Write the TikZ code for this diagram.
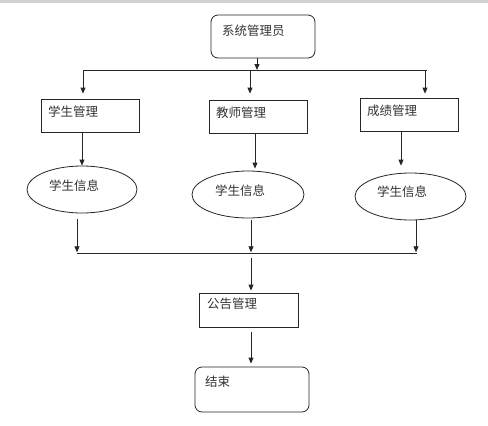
\documentclass[tikz,border=0pt]{standalone}
\usepackage{fontspec}
\newfontfamily\cjk{Noto Sans CJK SC}
\usetikzlibrary{arrows.meta,shapes.geometric}
\begin{document}
\begin{tikzpicture}[x=1pt,y=-1pt,
  line/.style={draw=black!85,line width=0.8pt},
  arr/.style={line,-{Triangle[length=6pt,width=5pt]}},
  boxr/.style={line,rectangle,rounded corners=7pt,inner sep=0pt},
  boxs/.style={line,rectangle,inner sep=0pt},
  oval/.style={line,ellipse,inner sep=0pt},
  txt/.style={font=\cjk\fontsize{12.5}{14}\selectfont,text=black!80,inner sep=0pt}]
\useasboundingbox (0,0) rectangle (488,426);
\fill[black!18] (0,0) rectangle (488,2.5);
% top box
\node[boxr,minimum width=104pt,minimum height=43pt] (A) at (263,36.5) {};
\node[txt,anchor=west] (At) at (222,31) {系统管理员};
% boxes
\node[boxs,minimum width=98pt,minimum height=33pt] (B1) at (90,115.5) {};
\node[boxs,minimum width=98pt,minimum height=33pt] (B2) at (258,116.5) {};
\node[boxs,minimum width=98pt,minimum height=33pt] (B3) at (409,114.5) {};
\node[txt,anchor=west] (B1t) at (48,111.5) {学生管理};
\node[txt,anchor=west] (B2t) at (216,112.5) {教师管理};
\node[txt,anchor=west] (B3t) at (367,110.5) {成绩管理};
% ellipses
\node[oval,minimum width=110pt,minimum height=47pt] (E1) at (82,189.5) {};
\node[oval,minimum width=112pt,minimum height=47pt] (E2) at (248,194.5) {};
\node[oval,minimum width=111pt,minimum height=47pt] (E3) at (410.5,196.5) {};
\node[txt] (E1t) at (74,185.5) {学生信息};
\node[txt] (E2t) at (240,190.5) {学生信息};
\node[txt] (E3t) at (402,192) {学生信息};
% bottom
\node[boxs,minimum width=99pt,minimum height=34pt] (D) at (248.5,310) {};
\node[txt,anchor=west] (Dt) at (207,304) {公告管理};
\node[boxr,minimum width=114pt,minimum height=45pt] (F) at (252,389.5) {};
\node[txt,anchor=west] (Ft) at (205,382) {结束};
% bus 1
\coordinate (c0) at (257,70);
\coordinate (b1l) at (83,70);
\coordinate (b1r) at (427,70);
\coordinate (u2) at (250,70);
\coordinate (u3) at (425,70);
\draw[line] (b1l) -- (b1r);
\draw[arr] (A.south -| c0) -- (c0);
\draw[arr,shorten >=5pt] (b1l) -- (b1l |- B1.north);
\draw[arr,shorten >=6pt] (u2) -- (u2 |- B2.north);
\draw[arr,shorten >=4pt] (u3) -- (u3 |- B3.north);
% boxes to ellipses
\coordinate (s2) at (255,133);
\coordinate (s3) at (401,131);
\draw[arr] (B1.south -| E1.north) -- (E1.north);
\draw[arr,shorten >=2pt] (s2) -- (s2 |- E2.north);
\draw[arr,shorten >=7pt] (s3) -- (s3 |- E3.north);
% bus 2
\coordinate (b2l) at (77,253.3);
\coordinate (b2r) at (417,253.3);
\coordinate (m2) at (251,253.3);
\coordinate (m3) at (416,253.3);
\draw[line] (b2l) -- (b2r);
\draw[arr,shorten <=6pt,shorten >=1pt] (b2l |- E1.south) -- (b2l);
\draw[arr,shorten <=2pt,shorten >=1pt] (m2 |- E2.south) -- (m2);
\draw[arr,shorten >=1pt] (m3 |- E3.south) -- (m3);
% bottom connectors
\draw[arr,shorten <=4.7pt,shorten >=2pt] (m2) -- (m2 |- D.north);
\draw[arr,shorten <=5pt,shorten >=3pt] (D.south -| m2) -- (m2 |- F.north);
\end{tikzpicture}
\end{document}
